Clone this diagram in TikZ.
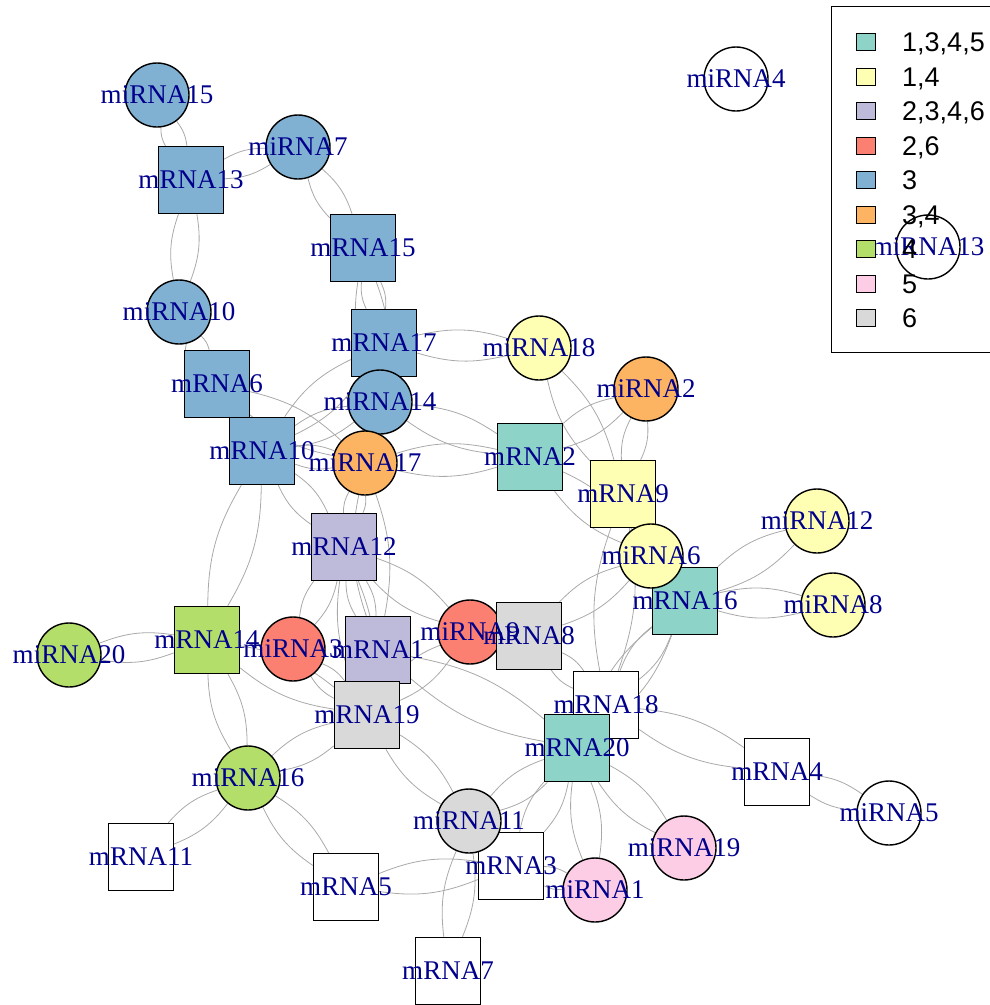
\documentclass[tikz,border=0pt]{standalone}
\usepackage{fontspec}
\setmainfont{Liberation Serif}
\newfontfamily\legfont{Liberation Sans}
\usetikzlibrary{backgrounds}
\definecolor{cTeal}{HTML}{8DD3C7}
\definecolor{cYel}{HTML}{FFFFB3}
\definecolor{cLav}{HTML}{BEBADA}
\definecolor{cSal}{HTML}{FB8072}
\definecolor{cBlu}{HTML}{80B1D3}
\definecolor{cOra}{HTML}{FDB462}
\definecolor{cGrn}{HTML}{B3DE69}
\definecolor{cPnk}{HTML}{FCCDE5}
\definecolor{cGry}{HTML}{D9D9D9}
\definecolor{dkblue}{HTML}{00008B}
\definecolor{edgegrey}{HTML}{A9A9A9}
\tikzset{
  vtx/.style={draw=black, line width=1.4pt, inner sep=0pt},
  mi/.style={vtx, circle, minimum size=64pt},
  mr/.style={vtx, rectangle, minimum width=65pt, minimum height=67pt},
  lab/.style={text=dkblue, font=\fontsize{27}{27}\selectfont, inner sep=0pt},
  edgeline/.style={draw=edgegrey, line width=0.8pt},
  legbox/.style={draw=black, line width=1pt, inner sep=0pt, minimum width=19pt, minimum height=17pt},
  legtext/.style={anchor=base west, inner sep=0pt, font=\legfont\fontsize{27}{27}\selectfont}
}
\newcommand\lens[2]{\draw[edgeline] (#1) to[bend left=15] (#2) (#1) to[bend right=15] (#2);}
\begin{document}
\begin{tikzpicture}[x=1pt,y=-1pt]
\useasboundingbox (0,0) rectangle (990,1005);
\foreach \n/\x/\y/\s/\c in {
 miRNA15/157/95/mi/cBlu, mRNA13/191/180/mr/cBlu, miRNA7/298/147/mi/cBlu,
 mRNA15/363/248/mr/cBlu, miRNA10/179/312/mi/cBlu, mRNA17/384/343/mr/cBlu,
 mRNA6/217/384/mr/cBlu, mRNA10/262/451/mr/cBlu, miRNA14/380/402/mi/cBlu,
 miRNA17/365/463/mi/cOra, mRNA12/344/547/mr/cLav, miRNA18/539/348/mi/cYel,
 miRNA2/646/389/mi/cOra, mRNA2/530/457/mr/cTeal, mRNA9/623/494/mr/cYel,
 mRNA16/685/601/mr/cTeal, miRNA6/651/556/mi/cYel, miRNA12/817/521/mi/cYel,
 miRNA8/833/605/mi/cYel, miRNA20/69/655/mi/cGrn, mRNA14/207/640/mr/cGrn,
 miRNA3/293/649/mi/cSal, mRNA1/378/650/mr/cLav, miRNA9/470/632/mi/cSal,
 mRNA8/529/636/mr/cGry, mRNA19/367/715/mr/cGry, miRNA16/248/778/mi/cGrn,
 mRNA18/606/705/mr/white, mRNA20/577/748/mr/cTeal, mRNA4/777/772/mr/white,
 miRNA5/889/813/mi/white, miRNA19/684/848/mi/cPnk, mRNA3/511/866/mr/white,
 miRNA11/469/821/mi/cGry, mRNA11/141/857/mr/white, mRNA5/346/887/mr/white,
 miRNA1/595/890/mi/cPnk, mRNA7/448/971/mr/white, miRNA4/736/79/mi/white,
 miRNA13/928/247/mi/white}
 {\node[\s, fill=\c] (\n) at (\x,\y) {};}
\begin{pgfonlayer}{background}
\lens{miRNA15}{mRNA13}
\lens{mRNA13}{miRNA7}
\lens{mRNA13}{miRNA10}
\lens{miRNA7}{mRNA15}
\lens{mRNA15}{mRNA17}
\lens{mRNA15}{miRNA14}
\lens{miRNA10}{mRNA6}
\lens{mRNA17}{miRNA18}
\lens{mRNA17}{mRNA10}
\lens{mRNA10}{miRNA14}
\lens{mRNA10}{miRNA17}
\lens{mRNA6}{miRNA17}
\lens{miRNA14}{mRNA2}
\lens{miRNA17}{mRNA2}
\lens{miRNA17}{mRNA12}
\lens{mRNA10}{mRNA12}
\lens{mRNA10}{mRNA14}
\lens{miRNA18}{mRNA9}
\lens{mRNA2}{miRNA2}
\lens{miRNA2}{mRNA9}
\lens{mRNA2}{miRNA6}
\lens{mRNA9}{mRNA18}
\lens{miRNA6}{mRNA8}
\lens{mRNA16}{miRNA12}
\lens{mRNA16}{miRNA8}
\lens{mRNA16}{mRNA18}
\lens{mRNA16}{mRNA20}
\lens{miRNA20}{mRNA14}
\lens{mRNA14}{miRNA16}
\lens{mRNA14}{mRNA19}
\lens{mRNA12}{miRNA3}
\lens{mRNA12}{mRNA1}
\lens{mRNA12}{miRNA9}
\lens{mRNA12}{mRNA19}
\lens{miRNA17}{mRNA1}
\lens{miRNA3}{mRNA19}
\lens{miRNA9}{mRNA19}
\lens{mRNA1}{mRNA20}
\lens{mRNA8}{mRNA18}
\lens{mRNA18}{mRNA4}
\lens{mRNA4}{miRNA5}
\lens{miRNA16}{mRNA19}
\lens{miRNA16}{mRNA11}
\lens{miRNA16}{mRNA5}
\lens{mRNA19}{miRNA11}
\lens{miRNA11}{mRNA20}
\lens{miRNA11}{mRNA7}
\lens{mRNA5}{mRNA3}
\lens{mRNA20}{mRNA3}
\lens{mRNA20}{miRNA1}
\lens{mRNA20}{miRNA19}
\lens{mRNA3}{miRNA1}
\end{pgfonlayer}
\foreach \n in {miRNA15, mRNA13, miRNA7, mRNA15, miRNA10, mRNA17, mRNA6, mRNA10,
 miRNA14, miRNA17, mRNA12, miRNA18, miRNA2, mRNA2, mRNA9, mRNA16, miRNA6, miRNA12,
 miRNA8, miRNA20, mRNA14, miRNA3, mRNA1, miRNA9, mRNA8, mRNA19, miRNA16, mRNA18,
 mRNA20, mRNA4, miRNA5, miRNA19, mRNA3, miRNA11, mRNA11, mRNA5, miRNA1, mRNA7,
 miRNA4, miRNA13}
 {\node[lab] (l\n) at (\n) {\n};}
% legend
\node[draw=black, line width=1.4pt, inner sep=0pt, minimum width=170pt, minimum height=346pt, anchor=north west] (legend) at (831,6) {};
\foreach \t/\c [count=\i] in {{1,3,4,5}/cTeal, {1,4}/cYel, {2,3,4,6}/cLav, {2,6}/cSal, {3}/cBlu, {3,4}/cOra, {4}/cGrn, {5}/cPnk, {6}/cGry}
 {\pgfmathsetmacro\yy{42+34.5*(\i-1)}
  \node[legbox, fill=\c] (lb\i) at (865.5,\yy) {};
  \node[legtext] (lt\i) at (902,\yy+9.5) {\t};}
\end{tikzpicture}
\end{document}
